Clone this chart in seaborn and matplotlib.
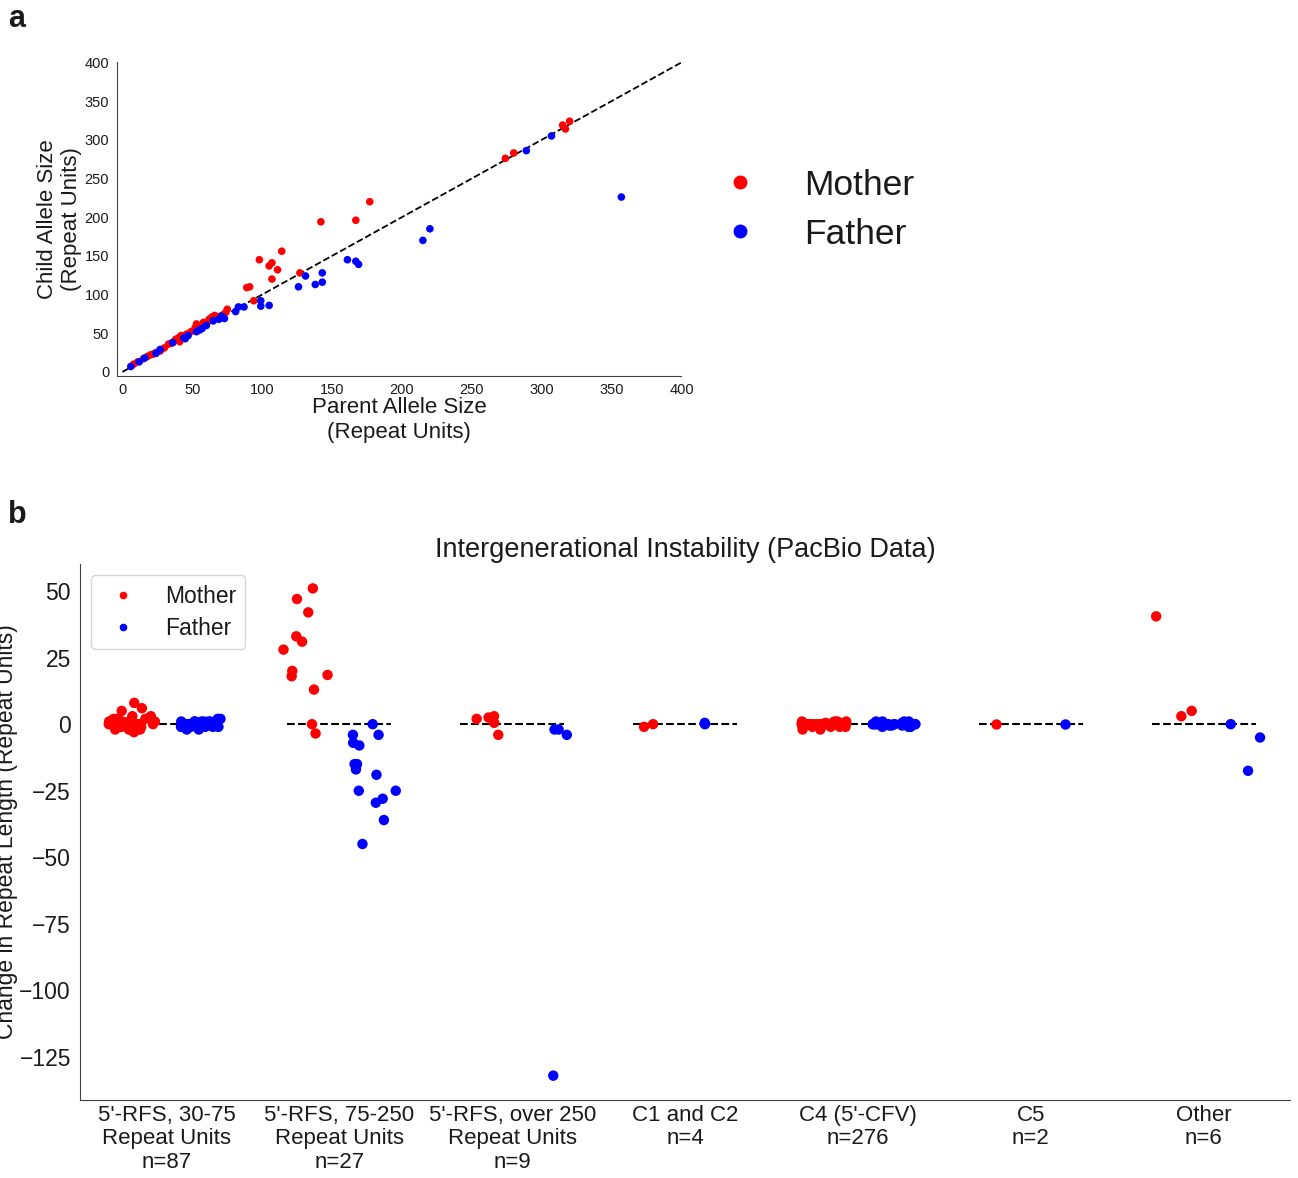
import numpy as np
import pandas as pd
import matplotlib
matplotlib.use("Agg")
import matplotlib.pyplot as plt
from matplotlib.lines import Line2D
import seaborn as sns

# ---------------- Panel a data: parent vs child allele size ----------------
mother_parent = [320, 315, 317, 280, 274, 177, 167, 142, 114, 98, 107, 105, 111, 107, 127,
                 91, 89, 94, 75, 74, 72, 66, 64, 62, 58, 53, 52, 49, 46, 42, 40, 38, 35, 33,
                 27, 24, 20, 18, 15, 11, 8, 60, 67, 44, 30, 56, 70, 36, 22, 41]
mother_child = [324, 319, 314, 283, 276, 220, 196, 194, 156, 145, 141, 137, 132, 120, 128,
                110, 109, 92, 81, 77, 74, 73, 71, 68, 64, 62, 57, 52, 49, 47, 44, 42, 37, 36,
                27, 25, 22, 20, 17, 13, 10, 63, 70, 46, 31, 58, 72, 38, 23, 39]
father_parent = [357, 307, 289, 220, 215, 161, 167, 169, 143, 131, 143, 138, 126, 99, 99,
                 105, 87, 83, 81, 73, 69, 65, 57, 55, 53, 47, 44, 36, 27, 24, 16, 12, 6, 71,
                 60, 45]
father_child = [226, 305, 286, 185, 170, 145, 143, 139, 128, 124, 116, 113, 110, 92, 85,
                86, 84, 84, 78, 69, 68, 66, 56, 54, 52, 47, 44, 38, 29, 24, 18, 13, 7, 72,
                60, 43]

# ---------------- Panel b data: change in repeat length ----------------
categories = ["5'-RFS, 30-75\nRepeat Units\nn=87", "5'-RFS, 75-250\nRepeat Units\nn=27",
              "5'-RFS, over 250\nRepeat Units\nn=9", "C1 and C2\nn=4", "C4 (5'-CFV)\nn=276",
              "C5\nn=2", "Other\nn=6"]
rfs30_mother = [8, 6, 5, 3, 3, 2, 2, 2, 1, 1, 1, 1, 0, 0, 0, 0, 0, 0, -1, -1, -1, -1, -2, -2,
                -3, 2, 1, 0, -1, 0, 1, -2]
rfs30_father = [2, 2, 1, 1, 1, 1, 0, 0, 0, 0, 0, 0, 0, -1, -1, -1, -1, -2, -2, 0, 1, -1, 0,
                1, 0, -1, 0, 1, 0]
rfs75_mother = [51, 47, 42, 33, 31, 28, 20, 18.5, 18, 13, 0, -3.5]
rfs75_father = [0, -4, -4, -7, -8, -15, -15, -17, -19, -25, -25, -28, -29.5, -36, -45]
rfs250_mother = [-4, 3, 2.5, 2, 0.5]
rfs250_father = [-2, -2, -4, -132]
c12_mother = [-1, 0]
c12_father = [0, 0.5]
c4_mother = [1, 1, 1, 0.5, 0.5, 0, 0, 0, 0, 0, 0, 0, 0, 0, 0, 0, 0, 0, 0, 0, 0, -0.5, -0.5,
             -1, -1, -1, -2, -2, 1, 0, 0, 0, -1, 0, 0, 0.5, 0, 0, -0.5, 0]
c4_father = [1, 1, 1, 0.5, 0.5, 0, 0, 0, 0, 0, 0, 0, 0, 0, 0, 0, 0, 0, 0, 0, 0, -0.5, -0.5,
             -1, -1, -1, 0, 0, 0, 0.5, 0, 0, -0.5, 0, 0, 1, 0, 0]
c5_mother = [0]
c5_father = [0]
other_mother = [40.5, 5, 3]
other_father = [0, -5, -17.5]

# ---------------- build tables ----------------
df_a = pd.DataFrame({
    "parent": mother_parent + father_parent,
    "child": mother_child + father_child,
    "sex": ["Mother"] * len(mother_parent) + ["Father"] * len(father_parent),
})

groups = [(rfs30_mother, rfs30_father), (rfs75_mother, rfs75_father),
          (rfs250_mother, rfs250_father), (c12_mother, c12_father),
          (c4_mother, c4_father), (c5_mother, c5_father), (other_mother, other_father)]
rows = []
for cat, (m, f) in zip(categories, groups):
    rows += [(cat, "Mother", v) for v in m]
    rows += [(cat, "Father", v) for v in f]
df_b = pd.DataFrame(rows, columns=["category", "sex", "change"])

palette = {"Mother": "#ff0000", "Father": "#0000ff"}

# ---------------- style ----------------
sns.set_style("white")
plt.rcParams["font.family"] = ["Liberation Sans", "DejaVu Sans"]
plt.rcParams["axes.edgecolor"] = "0.25"
plt.rcParams["text.color"] = "0.1"
plt.rcParams["xtick.color"] = "0.1"
plt.rcParams["ytick.color"] = "0.1"
plt.rcParams["axes.labelcolor"] = "0.1"

fig = plt.figure(figsize=(12.98, 11.78), dpi=100)
ax_a = fig.add_axes([0.090, 0.681, 0.435, 0.266])
ax_b = fig.add_axes([0.0616, 0.0662, 0.9324, 0.455])

# ---------------- panel a ----------------
ax_a.plot([0, 400], [0, 400], ls="--", color="black", lw=1.3, zorder=1)
sns.scatterplot(data=df_a, x="parent", y="child", hue="sex", palette=palette,
                s=30, linewidth=0, legend=False, ax=ax_a, zorder=2)
ax_a.set_xlim(-4, 400)
ax_a.set_ylim(-5, 400)
ax_a.set_xticks(np.arange(0, 401, 50))
ax_a.set_yticks(np.arange(0, 401, 50))
ax_a.tick_params(labelsize=10.5, pad=2)
ax_a.set_xlabel("Parent Allele Size\n(Repeat Units)", fontsize=16, labelpad=0)
ax_a.set_ylabel("Child Allele Size\n(Repeat Units)", fontsize=16, labelpad=2)
sns.despine(ax=ax_a)

handles_a = [Line2D([], [], ls="", marker="o", markersize=9, color=palette["Mother"]),
             Line2D([], [], ls="", marker="o", markersize=9, color=palette["Father"])]
fig.legend(handles_a, ["Mother", "Father"], loc="center left",
           bbox_to_anchor=(0.532, 0.822), borderaxespad=0, frameon=False,
           fontsize=25.5, labelspacing=0.45)

# ---------------- panel b ----------------
np.random.seed(3)
for i in range(len(categories)):
    ax_b.hlines(0, i - 0.3, i + 0.3, colors="black", linestyles="--", lw=1.5, zorder=0)
sns.stripplot(data=df_b, x="category", y="change", hue="sex", order=categories,
              hue_order=["Mother", "Father"], palette=palette, dodge=True,
              jitter=0.28, size=7.5, linewidth=0, legend=False, ax=ax_b, zorder=2)
ax_b.set_xlim(-0.5, 6.5)
ax_b.set_yticks([50, 25, 0, -25, -50, -75, -100, -125])
ax_b.tick_params(axis="y", labelsize=16.5, pad=3)
ax_b.tick_params(axis="x", labelsize=16, pad=0)
for lbl in ax_b.get_xticklabels():
    lbl.set_linespacing(1.15)
ax_b.set_xlabel("")
ax_b.set_ylabel("Change in Repeat Length (Repeat Units)", fontsize=16.5)
ax_b.yaxis.set_label_coords(-0.051, 0.5)
ax_b.set_title("Intergenerational Instability (PacBio Data)", fontsize=19.5, pad=5)
sns.despine(ax=ax_b)
for sp in ax_b.spines.values():
    sp.set_color("0.25")

handles_b = [Line2D([], [], ls="", marker="o", markersize=4.5, color=palette["Mother"]),
             Line2D([], [], ls="", marker="o", markersize=4.5, color=palette["Father"])]
ax_b.legend(handles_b, ["Mother", "Father"], loc="upper left", fontsize=16.5,
            labelspacing=0.4, frameon=True)

# panel letters
fig.text(0.006, 0.984, "a", fontsize=22, fontweight="bold", va="center")
fig.text(0.006, 0.563, "b", fontsize=22, fontweight="bold", va="center")

fig.savefig("out.png", dpi=100)
